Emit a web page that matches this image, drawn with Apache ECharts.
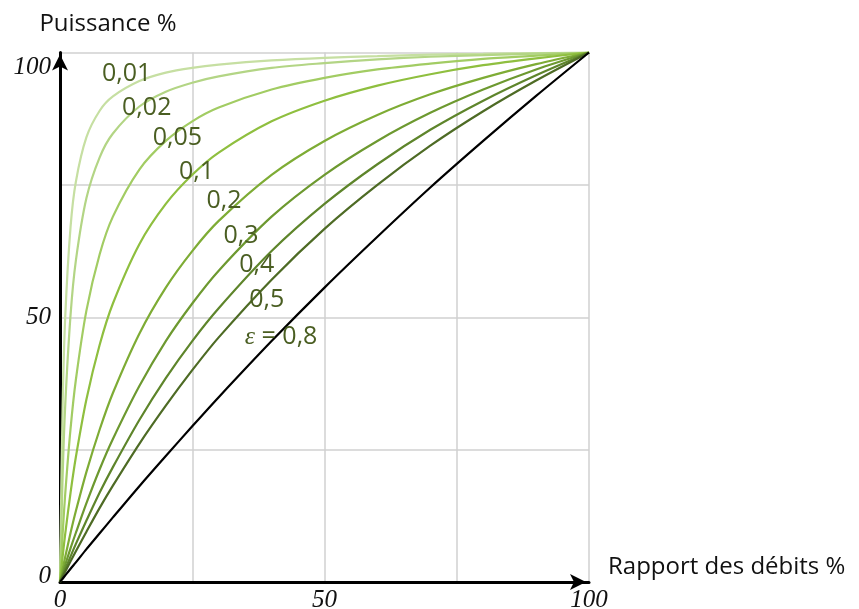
<!DOCTYPE html>
<html>
<head>
<meta charset="utf-8">
<script src="https://cdn.jsdelivr.net/npm/echarts@6/dist/echarts.min.js"></script>
<style>html,body{margin:0;padding:0;background:#fff}#c{width:859px;height:609px}</style>
</head>
<body>
<div id="c"></div>
<script>
// Rapport des débits % (x samples)
const flow = [0, 0.5, 1, 2, 3, 5, 7.5, 10, 15, 20, 25, 30, 40, 50, 60, 70, 80, 90, 100];
// Puissance % for each epsilon curve
const eps001 = [0, 33.4, 50.3, 67.1, 75.6, 84.0, 89.0, 91.7, 94.6, 96.2, 97.1, 97.7, 98.5, 99.0, 99.3, 99.6, 99.75, 99.9, 100];
const eps002 = [0, 20.1, 33.6, 50.5, 60.7, 72.5, 80.2, 84.7, 89.8, 92.6, 94.3, 95.5, 97.1, 98.0, 98.7, 99.2, 99.5, 99.8, 100];
const eps005 = [0, 9.1, 16.8, 29.0, 38.2, 51.3, 61.9, 69.0, 77.9, 83.3, 87.0, 89.6, 93.0, 95.2, 96.8, 97.9, 98.8, 99.4, 100];
const eps01  = [0, 4.8, 9.2, 16.9, 23.6, 34.5, 44.8, 52.6, 63.8, 71.4, 76.9, 81.1, 87.0, 90.9, 93.75, 95.9, 97.6, 98.9, 100];
const eps02  = [0, 2.45, 4.8, 9.3, 13.4, 20.8, 28.8, 35.7, 46.9, 55.6, 62.5, 68.2, 76.9, 83.3, 88.2, 92.1, 95.2, 97.8, 100];
const eps03  = [0, 1.65, 3.3, 6.4, 9.3, 14.9, 21.3, 27.0, 37.0, 45.5, 52.6, 58.8, 69.0, 76.9, 83.3, 88.6, 93.0, 96.8, 100];
const eps04  = [0, 1.24, 2.46, 4.85, 7.2, 11.6, 16.9, 21.7, 30.6, 38.5, 45.5, 51.7, 62.5, 71.4, 78.9, 85.4, 90.9, 95.7, 100];
const eps05  = [0, 1.0, 1.98, 3.9, 5.8, 9.5, 14.0, 18.2, 26.1, 33.3, 40.0, 46.2, 57.1, 66.7, 75.0, 82.4, 88.9, 94.7, 100];
const eps08  = [0, 0.62, 1.25, 2.5, 3.7, 6.2, 9.2, 12.2, 18.1, 23.8, 29.4, 34.9, 45.5, 55.6, 65.2, 74.5, 83.3, 91.8, 100];

const curveNames = ['0,01', '0,02', '0,05', '0,1', '0,2', '0,3', '0,4', '0,5', 'ε = 0,8'];
const curveValues = [eps001, eps002, eps005, eps01, eps02, eps03, eps04, eps05, eps08];
// curve label anchors in data units [flow %, power %]
const labelFlow  = [12.6, 16.4, 22.2, 25.8, 31.0, 34.2, 37.2, 39.1, 41.8];
const labelPower = [96.0, 89.6, 83.9, 77.4, 71.9, 65.3, 59.8, 53.3, 46.2];

const xTicks = [0, 50, 100];
const yTicks = [0, 50, 100];

const colors = ['#c6dfa2', '#b3d585', '#a2cc63', '#8fbf3f', '#7eac35', '#6d9930', '#5e852b', '#4e6b25', '#000000'];
const labelColor = '#4a5e22';

const series = curveValues.map((vals, i) => ({
  type: 'line',
  name: curveNames[i],
  data: flow.map((x, k) => [x, vals[k]]),
  showSymbol: false,
  smooth: 0.3,
  lineStyle: { color: colors[i], width: 2.2 },
  z: 3
}));

series.push({
  type: 'scatter',
  symbolSize: 0,
  silent: true,
  z: 5,
  itemStyle: { opacity: 1 },
  data: curveNames.map((n, i) => ({ value: [labelFlow[i], labelPower[i]], name: n })),
  label: {
    show: true,
    position: 'inside',
    formatter: p => p.dataIndex === 8 ? '{e|ε} = 0,8' : p.name,
    color: labelColor,
    opacity: 1,
    fontFamily: 'Open Sans',
    fontSize: 25,
    rich: {
      e: { fontFamily: 'Liberation Serif', fontStyle: 'italic', fontSize: 26, color: labelColor }
    }
  }
});

const chart = echarts.init(document.getElementById('c'), null, { renderer: 'canvas' });
chart.setOption({
  animation: false,
  backgroundColor: '#ffffff',
  grid: { left: 60, right: 270, top: 52.5, bottom: 27, containLabel: false, outerBoundsMode: 'none' },
  xAxis: {
    type: 'value', min: 0, max: 100, interval: 25,
    name: 'Rapport des débits %',
    nameLocation: 'end', nameGap: 19,
    nameTextStyle: { fontFamily: 'Open Sans', fontSize: 24, color: '#111', verticalAlign: 'bottom', padding: [0, 0, 3, 0] },
    axisLine: { show: true, onZero: false, lineStyle: { color: '#000', width: 3 }, symbol: ['none', 'arrow'], symbolSize: [12, 16], symbolOffset: [0, -3] },
    axisTick: { show: false },
    splitLine: { show: true, lineStyle: { color: '#d0d0d0', width: 1.5 } },
    axisLabel: {
      margin: 6,
      formatter: v => xTicks.indexOf(v) >= 0 ? String(v) : '',
      fontFamily: 'Liberation Serif', fontStyle: 'italic', fontSize: 25, color: '#111',
      showMaxLabel: true, showMinLabel: true
    }
  },
  yAxis: {
    type: 'value', min: 0, max: 100, interval: 25,
    name: 'Puissance %',
    nameLocation: 'end', nameGap: 16,
    nameTextStyle: { fontFamily: 'Open Sans', fontSize: 24, color: '#111', align: 'center', padding: [0, 0, 0, 96] },
    axisLine: { show: true, onZero: false, lineStyle: { color: '#000', width: 3 }, symbol: ['none', 'arrow'], symbolSize: [12, 16], symbolOffset: [0, -2] },
    axisTick: { show: false },
    splitLine: { show: true, lineStyle: { color: '#d0d0d0', width: 1.5 } },
    axisLabel: {
      margin: 9,
      formatter: v => v === 100 ? '{t|100}' : v === 50 ? '{m|50}' : v === 0 ? '{b|0}' : '',
      fontFamily: 'Liberation Serif', fontStyle: 'italic', fontSize: 25, color: '#111',
      rich: {
        t: { fontFamily: 'Liberation Serif', fontStyle: 'italic', fontSize: 25, color: '#111', padding: [30, 0, 0, 0] },
        m: { fontFamily: 'Liberation Serif', fontStyle: 'italic', fontSize: 25, color: '#111' },
        b: { fontFamily: 'Liberation Serif', fontStyle: 'italic', fontSize: 25, color: '#111', padding: [0, 0, 12, 0] }
      }
    }
  },
  series: series
});
</script>
</body>
</html>
